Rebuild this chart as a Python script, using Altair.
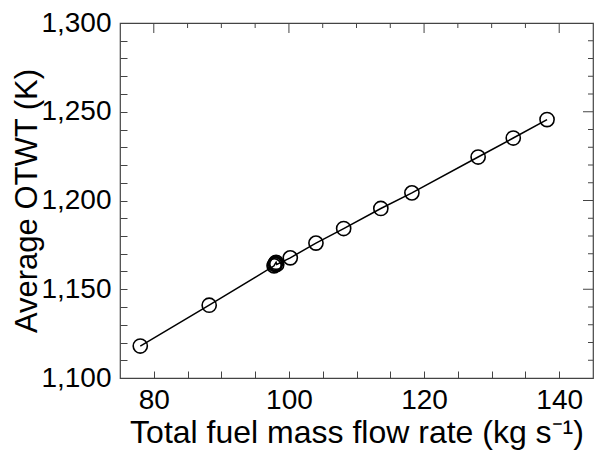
import altair as alt
import pandas as pd

# Data
flow_rate = [78.0, 88.2, 97.8, 97.9, 98.0, 98.1, 98.2, 100.2, 104.0, 108.1, 113.6, 118.2, 128.0, 133.2, 138.2]
otwt = [1118.0, 1141.0, 1163.2, 1164.0, 1164.6, 1165.2, 1164.0, 1167.7, 1176.0, 1184.2, 1195.5, 1204.3, 1224.5, 1235.2, 1245.6]
order = list(range(len(flow_rate)))

x_tick_values = [75, 80, 85, 90, 95, 100, 105, 110, 115, 120, 125, 130, 135, 140]
y_tick_values = [1100, 1110, 1120, 1130, 1140, 1150, 1160, 1170, 1180, 1190, 1200,
                 1210, 1220, 1230, 1240, 1250, 1260, 1270, 1280, 1290, 1300]
x_major = [80, 100, 120, 140]
x_minor = [85, 90, 95, 105, 110, 115, 125, 130, 135]
y_major = [1150, 1200, 1250]
y_minor = [1110, 1120, 1130, 1140, 1160, 1170, 1180, 1190, 1210, 1220, 1230, 1240, 1260, 1270, 1280, 1290]

df = pd.DataFrame({"x": flow_rate, "y": otwt, "i": order})

W, H = 473, 355
FONT = "Liberation Sans"
TICK_COLOR = "#444444"
TICK = 7
MAJOR, MINOR = 10, 5

xs = alt.Scale(domain=[75, 145], nice=False, zero=False)
ys = alt.Scale(domain=[1100, 1300], nice=False, zero=False)

X_TITLE = "Total fuel mass flow rate (kg s\u207b\u00b9)"
Y_TITLE = "Average OTWT (K)"

# Axes moved onto the frame with inward-pointing ticks (top axis shifted to the bottom edge,
# right axis shifted to the left edge).
x_axis = alt.Axis(orient="top", offset=-H, values=x_tick_values[1:],
                  labelExpr="datum.value % 20 === 0 ? datum.label : ''",
                  ticks=True, tickSize=TICK, tickColor=TICK_COLOR, tickWidth=1,
                  domain=False, grid=False,
                  labelFont=FONT, labelFontSize=28, labelColor="black",
                  labelBaseline="top", labelPadding=-(TICK + 8),
                  titleFont=FONT, titleFontSize=32, titleFontWeight="normal",
                  titleColor="black", titleY=64, titleBaseline="alphabetic", titleAngle=0)
y_axis = alt.Axis(orient="right", offset=-W, values=y_tick_values,
                  labelExpr="datum.value % 50 === 0 ? datum.label : ''",
                  ticks=True, tickSize=TICK, tickColor=TICK_COLOR, tickWidth=1,
                  domain=False, grid=False,
                  labelFont=FONT, labelFontSize=28, labelColor="black",
                  labelAlign="right", labelBaseline="middle", labelPadding=-(TICK + 9),
                  titleFont=FONT, titleFontSize=31, titleFontWeight="normal",
                  titleColor="black", titleX=-84, titleBaseline="alphabetic", titleAngle=270)

base = alt.Chart(df)

xe = alt.X("x:Q", scale=xs, axis=x_axis, title=X_TITLE)
ye = alt.Y("y:Q", scale=ys, axis=y_axis, title=Y_TITLE)

line = base.mark_line(color="black", strokeWidth=1.5).encode(x=xe, y=ye, order="i:Q")

points = base.mark_point(shape="circle", filled=False, color="black", size=200,
                         strokeWidth=1.6, opacity=1).encode(x=xe, y=ye)


def top_ticks(values, length):
    src = alt.Chart(pd.DataFrame({"x": values})).mark_rule(color=TICK_COLOR, strokeWidth=1)
    return src.encode(x=xe, y=alt.value(0), y2=alt.value(length))


def right_ticks(values, length):
    src = alt.Chart(pd.DataFrame({"y": values})).mark_rule(color=TICK_COLOR, strokeWidth=1)
    return src.encode(y=ye, x=alt.value(W), x2=alt.value(W - length))


tick_layers = [top_ticks(x_major, MAJOR), top_ticks(x_minor, MINOR),
               right_ticks(y_major, MAJOR), right_ticks(y_minor, MINOR)]

chart = (
    alt.layer(line, *tick_layers, points)
    .properties(width=W, height=H,
                autosize=alt.AutoSizeParams(type="none"),
                padding={"left": 120, "top": 23, "right": 5, "bottom": 75},
                background="white")
    .configure_view(stroke="#444444", strokeWidth=1.2)
)

chart.save("out.html", embed_options={"renderer": "svg", "actions": False})
